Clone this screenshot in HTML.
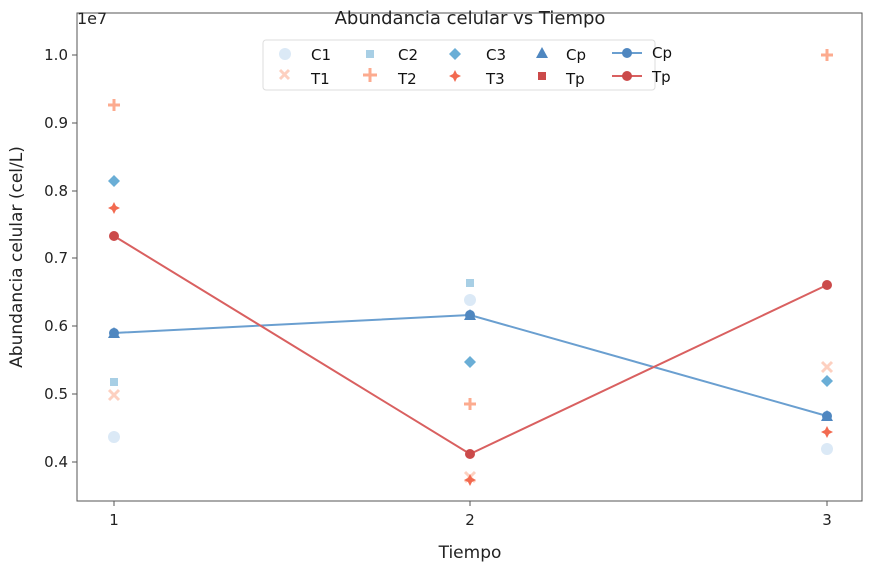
<!DOCTYPE html><html><head><style>body{margin:0;background:#fff}svg{font-family:"DejaVu Sans","Liberation Sans",sans-serif}</style></head><body>
<svg width="888" height="570" xmlns="http://www.w3.org/2000/svg">
<rect x="77" y="13" width="785" height="488" fill="none" stroke="#555" stroke-width="1"/>
<text x="470" y="24" font-size="18" text-anchor="middle" fill="#222">Abundancia celular vs Tiempo</text>
<text x="77" y="24" font-size="16" fill="#222">1e7</text>
<g font-size="15" fill="#222" text-anchor="end">
<text x="68" y="60">1.0</text><text x="68" y="128">0.9</text><text x="68" y="196">0.8</text><text x="68" y="263">0.7</text><text x="68" y="331">0.6</text><text x="68" y="399">0.5</text><text x="68" y="467">0.4</text></g>
<g stroke="#555"><line x1="72" y1="55" x2="77" y2="55"/><line x1="72" y1="123" x2="77" y2="123"/><line x1="72" y1="191" x2="77" y2="191"/><line x1="72" y1="258" x2="77" y2="258"/><line x1="72" y1="326" x2="77" y2="326"/><line x1="72" y1="394" x2="77" y2="394"/><line x1="72" y1="462" x2="77" y2="462"/>
<line x1="114" y1="501" x2="114" y2="506"/><line x1="470" y1="501" x2="470" y2="506"/><line x1="827" y1="501" x2="827" y2="506"/></g>
<g font-size="15" fill="#222" text-anchor="middle"><text x="114" y="525">1</text><text x="470" y="525">2</text><text x="827" y="525">3</text>
<text x="470" y="558" font-size="17">Tiempo</text>
<text transform="translate(22,257) rotate(-90)" font-size="17">Abundancia celular (cel/L)</text></g>
<polyline points="114,333 470,315 827,416" fill="none" stroke="#6a9fd0" stroke-width="2"/>
<polyline points="114,236 470,454 827,285" fill="none" stroke="#d96060" stroke-width="2"/>
<g id="m">
<circle cx="114" cy="437" r="6" fill="#dbe9f6"/><circle cx="470" cy="300" r="6" fill="#dbe9f6"/><circle cx="827" cy="449" r="6" fill="#dbe9f6"/>
<rect x="110" y="378" width="8" height="8" fill="#a8cfe5"/><rect x="466" y="279" width="8" height="8" fill="#a8cfe5"/>
<g fill="#6aaed6"><path d="M114,175l6,6-6,6-6-6z"/><path d="M470,356l6,6-6,6-6-6z"/><path d="M827,375l6,6-6,6-6-6z"/></g>
<g stroke="#fdd0c0" stroke-width="3"><path d="M109,390l10,10M119,390l-10,10"/><path d="M465,472l10,10M475,472l-10,10"/><path d="M822,362l10,10M832,362l-10,10"/></g>
<g stroke="#fcab8f" stroke-width="3"><path d="M108,105h12M114,99v12"/><path d="M464,404h12M470,398v12"/><path d="M821,55h12M827,49v12"/></g>
<g fill="#f26a50"><path d="M114,202l2,4 4,2-4,2-2,4-2-4-4-2 4-2z"/><path d="M470,474l2,4 4,2-4,2-2,4-2-4-4-2 4-2z"/><path d="M827,426l2,4 4,2-4,2-2,4-2-4-4-2 4-2z"/></g>
<g fill="#4f87c0"><path d="M114,327l6,11h-12z"/><path d="M470,309l6,11h-12z"/><path d="M827,410l6,11h-12z"/></g>
<g fill="#4f87c0"><circle cx="114" cy="333" r="5"/><circle cx="470" cy="315" r="5"/><circle cx="827" cy="416" r="5"/></g>
<g fill="#cb4a4a"><circle cx="114" cy="236" r="5"/><circle cx="470" cy="454" r="5"/><circle cx="827" cy="285" r="5"/></g>
</g>
<rect x="263" y="40" width="392" height="50" fill="#fff" stroke="#ddd" rx="3"/>
<g font-size="15" fill="#111">
<circle cx="285" cy="54" r="6" fill="#dbe9f6"/><text x="311" y="60">C1</text>
<path d="M280,70l9,9M289,70l-9,9" stroke="#fdd0c0" stroke-width="3"/><text x="311" y="84">T1</text>
<rect x="366" y="50" width="8" height="8" fill="#a8cfe5"/><text x="398" y="60">C2</text>
<path d="M363,75h14M370,68v14" stroke="#fcab8f" stroke-width="3"/><text x="398" y="84">T2</text>
<path d="M455,48l6,6-6,6-6-6z" fill="#6aaed6"/><text x="486" y="60">C3</text>
<path d="M455,70l2,4 4,2-4,2-2,4-2-4-4-2 4-2z" fill="#f26a50"/><text x="486" y="84">T3</text>
<path d="M542,47l6,11h-12z" fill="#4f87c0"/><text x="566" y="60">Cp</text>
<rect x="538" y="72" width="8" height="8" fill="#cb4a4a"/><text x="566" y="84">Tp</text>
<line x1="612" y1="53" x2="642" y2="53" stroke="#6a9fd0" stroke-width="2"/><circle cx="627" cy="53" r="5" fill="#4f87c0"/><text x="652" y="58">Cp</text>
<line x1="612" y1="76" x2="642" y2="76" stroke="#d96060" stroke-width="2"/><circle cx="627" cy="76" r="5" fill="#cb4a4a"/><text x="652" y="82">Tp</text>
</g>
</svg></body></html>
